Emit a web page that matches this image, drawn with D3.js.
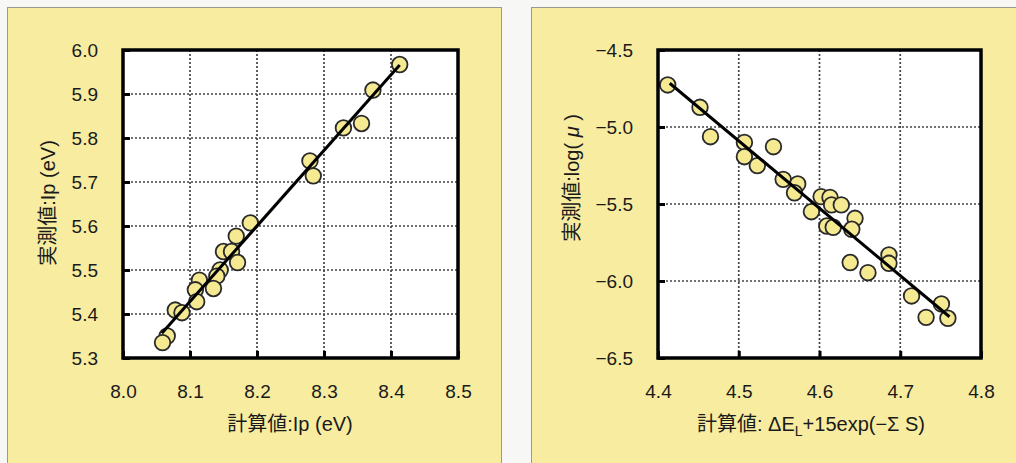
<!DOCTYPE html>
<html>
<head>
<meta charset="utf-8">
<script src="https://cdn.jsdelivr.net/npm/d3@7"></script>
<style>
  body { margin: 0; background: #f7f7f5; }
  svg text { font-family: "Liberation Sans", Arial, "Noto Sans CJK JP", sans-serif; fill: #1a1a1a; }
  .grid line { stroke: #444; stroke-width: 1.7; stroke-dasharray: 2,2; }
  .axis path { display: none; }
  .axis line { stroke: #000; stroke-width: 3; }
  .axis text { font-size: 19px; }
</style>
</head>
<body>
<div id="chart"></div>
<script>
const width = 1016
const height = 463

// left panel: ionisation potential, calculated vs measured
const ipCalc = [8.413, 8.373, 8.356, 8.329, 8.279, 8.284, 8.190, 8.169, 8.150, 8.162, 8.171,
    8.145, 8.140, 8.135, 8.114, 8.108, 8.110, 8.078, 8.088, 8.066, 8.059]
const ipMeas = [5.967, 5.909, 5.833, 5.823, 5.748, 5.714, 5.607, 5.577, 5.542, 5.542, 5.517,
    5.500, 5.486, 5.458, 5.477, 5.455, 5.428, 5.409, 5.403, 5.350, 5.335]
const ipFit = [[8.058, 5.356], [8.413, 5.966]]
const ipXTicks = [8.0, 8.1, 8.2, 8.3, 8.4, 8.5]
const ipYTicks = [5.3, 5.4, 5.5, 5.6, 5.7, 5.8, 5.9, 6.0]

// right panel: log(mu)
const muCalc = [4.412, 4.452, 4.465, 4.507, 4.543, 4.507, 4.523, 4.555, 4.573, 4.569, 4.602,
    4.613, 4.615, 4.627, 4.590, 4.644, 4.609, 4.617, 4.640, 4.638, 4.660, 4.686, 4.686,
    4.714, 4.751, 4.732, 4.759]
const muMeas = [-4.727, -4.872, -5.063, -5.100, -5.128, -5.193, -5.251, -5.340, -5.370, -5.427, -5.452,
    -5.457, -5.506, -5.506, -5.550, -5.593, -5.643, -5.651, -5.664, -5.880, -5.946, -5.831, -5.885,
    -6.097, -6.149, -6.236, -6.242]
const muFit = [[4.4145, -4.716], [4.761, -6.232]]
const muXTicks = [4.4, 4.5, 4.6, 4.7, 4.8]
const muYTicks = [-6.5, -6.0, -5.5, -5.0, -4.5]

const svg = d3.select("#chart").append("svg").attr("width", width).attr("height", height)

// yellow backgrounds
svg.append("rect").attr("x", 7.5).attr("y", 7.5).attr("width", 494).attr("height", 470)
    .attr("fill", "#f7eca0").attr("stroke", "#9a9a90").attr("stroke-width", 1)
svg.append("rect").attr("x", 531.5).attr("y", 7.5).attr("width", 500).attr("height", 470)
    .attr("fill", "#f7eca0").attr("stroke", "#9a9a90").attr("stroke-width", 1)

function drawPanel(opt) {
    const w = opt.x1 - opt.x0
    const h = opt.y1 - opt.y0
    const g = svg.append("g").attr("transform", `translate(${opt.x0}, ${opt.y0})`)

    const x = d3.scaleLinear().domain(d3.extent(opt.xTicks)).range([0, w])
    const y = d3.scaleLinear().domain(d3.extent(opt.yTicks)).range([h, 0])

    g.append("rect").attr("width", w).attr("height", h).attr("fill", "#fff")

    // dotted grid
    const grid = g.append("g").attr("class", "grid")
    grid.selectAll("line.v").data(opt.xTicks.slice(1, -1)).enter().append("line")
        .attr("x1", d => x(d)).attr("x2", d => x(d)).attr("y1", 0).attr("y2", h)
    grid.selectAll("line.h").data(opt.yTicks.slice(1, -1)).enter().append("line")
        .attr("y1", d => y(d)).attr("y2", d => y(d)).attr("x1", 0).attr("x2", w)

    // axes with inward ticks
    g.append("g").attr("class", "axis").attr("transform", `translate(0, ${h})`)
        .call(d3.axisBottom(x).tickValues(opt.xTicks).tickFormat(d3.format(".1f")).tickSize(-7).tickPadding(27))
    g.append("g").attr("class", "axis")
        .call(d3.axisLeft(y).tickValues(opt.yTicks).tickFormat(d3.format(".1f")).tickSize(-7).tickPadding(25))

    // points
    const pts = opt.xs.map((v, i) => [v, opt.ys[i]])
    g.selectAll("circle").data(pts).enter().append("circle")
        .attr("cx", d => x(d[0])).attr("cy", d => y(d[1])).attr("r", 7.8)
        .attr("fill", "#f5ea92").attr("stroke", "#2a2a2a").attr("stroke-width", 1.8)

    // regression line
    g.append("path").datum(opt.fit)
        .attr("d", d3.line().x(d => x(d[0])).y(d => y(d[1])))
        .attr("stroke", "#000").attr("stroke-width", 3).attr("fill", "none")

    // frame
    g.append("rect").attr("width", w).attr("height", h)
        .attr("fill", "none").attr("stroke", "#000").attr("stroke-width", 3.5)

    // titles
    const xt = svg.append("text").attr("x", opt.xTitleX).attr("y", 431)
        .attr("text-anchor", "middle").attr("font-size", 20)
    opt.xTitle(xt)
    const yt = svg.append("text")
        .attr("transform", `translate(${opt.yTitleX}, ${opt.yTitleY}) rotate(-90)`)
        .attr("text-anchor", "middle").attr("font-size", 20)
    opt.yTitle(yt)
}

drawPanel({
    x0: 123, x1: 458, y0: 50, y1: 358,
    xTicks: ipXTicks, yTicks: ipYTicks,
    xs: ipCalc, ys: ipMeas, fit: ipFit,
    xTitleX: 290, yTitleX: 55, yTitleY: 203,
    xTitle: t => t.text("計算値:Ip (eV)"),
    yTitle: t => t.text("実測値:Ip (eV)")
})

drawPanel({
    x0: 658, x1: 981, y0: 50, y1: 358,
    xTicks: muXTicks, yTicks: muYTicks,
    xs: muCalc, ys: muMeas, fit: muFit,
    xTitleX: 811, yTitleX: 579, yTitleY: 178,
    xTitle: t => {
        t.append("tspan").text("計算値: ΔE")
        t.append("tspan").attr("font-size", 14).attr("dy", 5).text("L")
        t.append("tspan").attr("dy", -5).text("+15exp(−Σ S)")
    },
    yTitle: t => {
        t.append("tspan").text("実測値:log( ")
        t.append("tspan").attr("font-style", "italic").text("μ")
        t.append("tspan").text(" )")
    }
})
</script>
</body>
</html>
